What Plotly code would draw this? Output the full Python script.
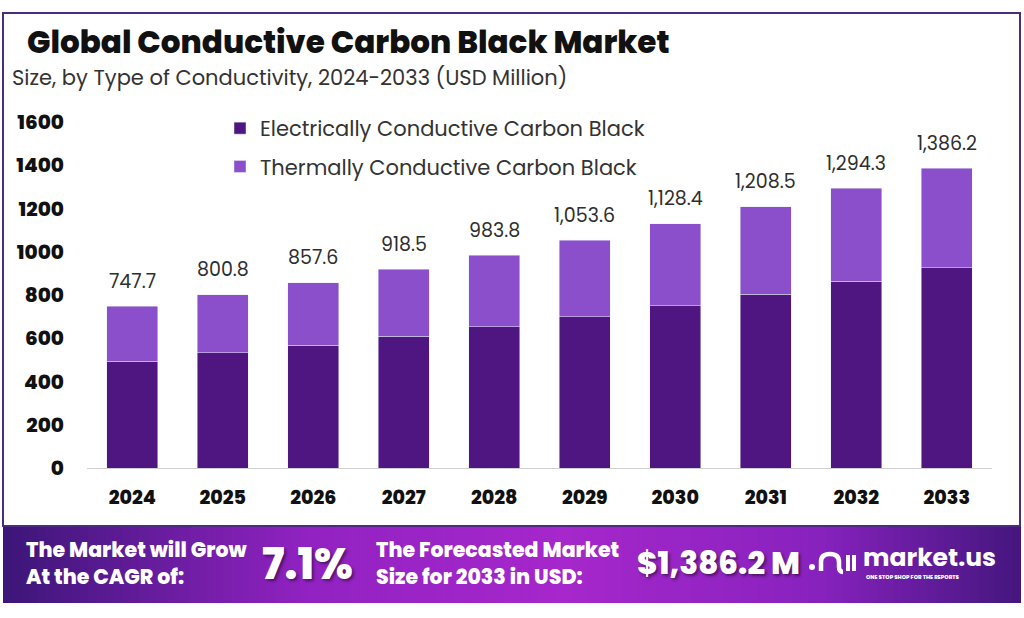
import plotly.graph_objects as go

# ---------------- data ----------------
years = ["2024", "2025", "2026", "2027", "2028", "2029", "2030", "2031", "2032", "2033"]
totals = [747.7, 800.8, 857.6, 918.5, 983.8, 1053.6, 1128.4, 1208.5, 1294.3, 1386.2]
electrical = [494, 533, 568, 610, 653, 699, 750, 804, 863, 926]
thermal = [round(t - e, 1) for t, e in zip(totals, electrical)]
series_names = ["Electrically Conductive Carbon Black", "Thermally Conductive Carbon Black"]
y_ticks = [0, 200, 400, 600, 800, 1000, 1200, 1400, 1600]
cagr_text = "7.1%"
forecast_text = "$1,386.2 M"

# ---------------- geometry helpers (pixel -> paper) ----------------
W, H = 1024, 618
L, R, T, B = 87, 992, 122, 468


def px(x):
    return (x - L) / (R - L)


def py(y):
    return (B - y) / (B - T)


FONT = "Poppins, Inter, 'Open Sans', sans-serif"
DARK = "#4f1580"
LIGHT = "#8b4fcc"

fig = go.Figure()
fig.add_trace(go.Bar(x=years, y=electrical, name=series_names[0], marker_color=DARK,
                     legendgroup="a", hoverinfo="skip"))
fig.add_trace(go.Bar(x=years, y=thermal, name=series_names[1], marker_color=LIGHT,
                     legendgroup="b", hoverinfo="skip"))

annotations = []
# value labels above bars (x given as category index)
for i, tot in enumerate(totals):
    annotations.append(dict(x=i, y=tot, xref="x", yref="y", text=f"{tot:,.1f}",
                            showarrow=False, yshift=25, yanchor="middle",
                            font=dict(family=FONT, size=19, color="#2e2e2e", weight=400)))

# title / subtitle
annotations.append(dict(x=px(25), y=py(42), xref="paper", yref="paper", xanchor="left", yanchor="middle",
                        text="Global Conductive Carbon Black Market", showarrow=False,
                        font=dict(family=FONT, size=31, color="#111111", weight=800)))
annotations.append(dict(x=px(10), y=py(78), xref="paper", yref="paper", xanchor="left", yanchor="middle",
                        text="Size, by Type of Conductivity, 2024-2033 (USD Million)", showarrow=False,
                        font=dict(family=FONT, size=21, color="#333333")))

# banner text
shadow = "2px 2px 3px rgba(0,0,0,0.45)"
annotations.append(dict(x=px(24), y=py(563), xref="paper", yref="paper", xanchor="left", yanchor="middle",
                        text="The Market will Grow<br>At the CAGR of:", showarrow=False, align="left",
                        font=dict(family=FONT, size=20.5, color="white", weight=800)))
annotations.append(dict(x=px(260), y=py(564), xref="paper", yref="paper", xanchor="left", yanchor="middle",
                        text=cagr_text, showarrow=False,
                        font=dict(family=FONT, size=43, color="white", weight=800, shadow=shadow)))
annotations.append(dict(x=px(374), y=py(563), xref="paper", yref="paper", xanchor="left", yanchor="middle",
                        text="The Forecasted Market<br>Size for 2033 in USD:", showarrow=False, align="left",
                        font=dict(family=FONT, size=20.5, color="white", weight=800)))
annotations.append(dict(x=px(635), y=py(563), xref="paper", yref="paper", xanchor="left", yanchor="middle",
                        text=forecast_text, showarrow=False,
                        font=dict(family=FONT, size=31, color="white", weight=800, shadow=shadow)))
annotations.append(dict(x=px(861), y=py(557), xref="paper", yref="paper", xanchor="left", yanchor="middle",
                        text="market.us", showarrow=False,
                        font=dict(family=FONT, size=25, color="white", weight=700)))
annotations.append(dict(x=px(864), y=py(577), xref="paper", yref="paper", xanchor="left", yanchor="middle",
                        text="ONE STOP SHOP FOR THE REPORTS", showarrow=False,
                        font=dict(family=FONT, size=5.5, color="white", weight=800)))

shapes = []
# banner gradient
stops = [(0.0, (0x3c, 0x16, 0x78)), (0.3, (0x92, 0x22, 0xc2)), (0.55, (0xa6, 0x27, 0xcb)),
         (0.8, (0x88, 0x22, 0xbe)), (1.0, (0x44, 0x16, 0x7e))]


def grad(t):
    for (t0, c0), (t1, c1) in zip(stops[:-1], stops[1:]):
        if t0 <= t <= t1:
            f = (t - t0) / (t1 - t0)
            return "rgb(%d,%d,%d)" % tuple(round(a + (b - a) * f) for a, b in zip(c0, c1))
    return "rgb(%d,%d,%d)" % stops[-1][1]


bx0, bx1, by0, by1 = 3, 1021, 526, 603
n = 120
for i in range(n):
    x0 = bx0 + (bx1 - bx0) * i / n
    x1 = bx0 + (bx1 - bx0) * (i + 1) / n + 0.8
    shapes.append(dict(type="rect", xref="paper", yref="paper", x0=px(x0), x1=px(min(x1, bx1)),
                       y0=py(by1), y1=py(by0), fillcolor=grad((i + 0.5) / n), line=dict(width=0),
                       layer="below"))

# frame
shapes.append(dict(type="rect", xref="paper", yref="paper", x0=px(3), x1=px(1020), y0=py(526), y1=py(13),
                   line=dict(color="#4b2d7f", width=2), fillcolor="rgba(0,0,0,0)", layer="below"))

# logo icon
shapes.append(dict(type="circle", xref="paper", yref="paper", x0=px(809), x1=px(815), y0=py(570), y1=py(564),
                   fillcolor="white", line=dict(width=0)))


def P(x, y):
    return f"{px(x):.5f},{py(y):.5f}"


arch = (f"M{P(821,571)} L{P(821,562)} Q{P(821,554)} {P(830,554)} Q{P(839,554)} {P(839,562)} "
        f"L{P(839,567)} Q{P(839,572)} {P(843,572)}")
shapes.append(dict(type="path", xref="paper", yref="paper", path=arch, line=dict(color="white", width=4.5)))
for xx in (848, 854):
    shapes.append(dict(type="line", xref="paper", yref="paper", x0=px(xx), x1=px(xx), y0=py(571), y1=py(555),
                       line=dict(color="white", width=4)))

fig.update_layout(
    width=W, height=H,
    margin=dict(l=L, r=W - R, t=T, b=H - B, pad=0),
    paper_bgcolor="white", plot_bgcolor="white",
    barmode="stack", bargap=0.436,
    font=dict(family=FONT),
    showlegend=True,
    legend=dict(x=px(220), y=py(108), xanchor="left", yanchor="top", traceorder="grouped",
                tracegroupgap=8, bgcolor="rgba(0,0,0,0)",
                font=dict(family=FONT, size=21, color="#333333")),
    annotations=annotations,
    shapes=shapes,
    xaxis=dict(type="category", showgrid=False, showline=True, linecolor="#d0d0d0", linewidth=1,
               ticks="", ticklabelstandoff=12, zeroline=False, range=[-0.5, len(years) - 0.5],
               tickfont=dict(family=FONT, size=19, color="#111111", weight=800)),
    yaxis=dict(range=[0, 1600], tickvals=y_ticks, showgrid=False, showline=False, zeroline=False,
               ticks="", ticklabelstandoff=22,
               tickfont=dict(family=FONT, size=20, color="#111111", weight=800)),
)

fig.write_html("out.html", config={"displayModeBar": False},
               post_script="document.body.style.margin='0';document.body.style.overflow='hidden';")
